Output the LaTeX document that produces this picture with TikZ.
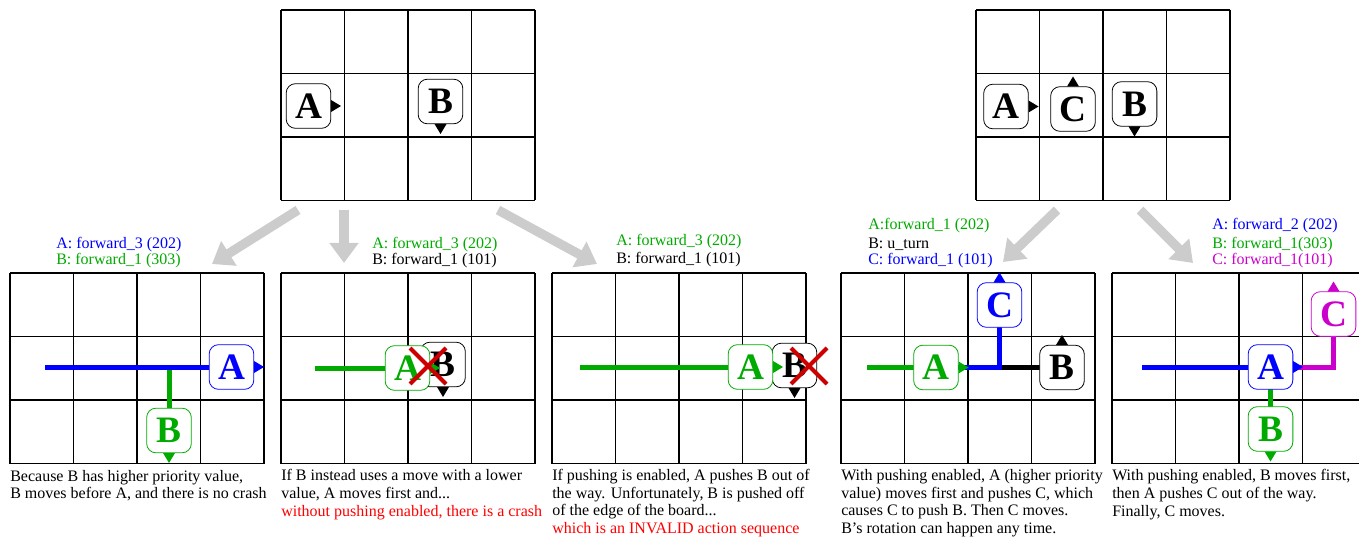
\documentclass[tikz,border=0pt]{standalone}
\usepackage{fontspec}
\setmainfont{Liberation Serif}
\usetikzlibrary{arrows.meta}
\definecolor{mygreen}{RGB}{0,170,0}
\definecolor{mymag}{RGB}{204,0,204}
\definecolor{crash}{RGB}{204,0,0}
\definecolor{fanc}{RGB}{204,204,204}
\tikzset{
  robot/.style={draw=#1, fill=white, rounded corners=7pt, minimum size=33.5pt,
    inner sep=0pt, line width=0.6pt, text=#1,
    font=\fontsize{28}{28}\selectfont\bfseries},
  move/.style={line width=3.75pt, #1},
  fan/.style={line width=7pt, fanc, -{Triangle[length=15pt,width=21pt]}},
  lbl/.style={anchor=base west, inner sep=0pt, font=\fontsize{12}{13}\selectfont},
  note/.style={anchor=base west, inner sep=0pt, align=left,
    font=\fontsize{12}{13.2}\selectfont},
  cross/.style={line width=3pt, crash}
}
% name, position, letter, colour, heading
\newcommand{\rbt}[5]{%
  \node[robot=#4] (#1) at (#2) {#3};
  \fill[#4,shift={(#1.center)},rotate=#5] (22.5,-6) -- (32.5,0) -- (22.5,6) -- cycle;
}
% 4x3 board from its top left corner
\newcommand{\board}[2]{%
  \foreach \i in {0,...,4} \draw[line width=0.8pt] (#1+\i*63.5,#2) -- ++(0,190.5);
  \foreach \j in {0,...,3} \draw[line width=0.8pt] (#1,#2+\j*63.5) -- ++(254,0);
}

\begin{document}
\begin{tikzpicture}[x=0.75pt,y=-0.75pt]
  \useasboundingbox (0,0) rectangle (1359,538);
  % Boards
  \board{281}{10}
  \board{976}{10}
  \board{10}{273}
  \board{281}{273}
  \board{552}{273}
  \board{841}{273}
  \board{1112}{273}
  % Fan-out arrows
  \coordinate (f1s) at (298,210); \coordinate (f1e) at (212,264);
  \coordinate (f2s) at (344,210); \coordinate (f2e) at (344,263);
  \coordinate (f3s) at (498,210); \coordinate (f3e) at (597,264);
  \coordinate (f4s) at (1057,210); \coordinate (f4e) at (1003,262);
  \coordinate (f5s) at (1140,210); \coordinate (f5e) at (1193,263);
  \draw[fan] (f1s) -- (f1e);
  \draw[fan] (f2s) -- (f2e);
  \draw[fan] (f3s) -- (f3e);
  \draw[fan] (f4s) -- (f4e);
  \draw[fan] (f5s) -- (f5e);
  % Start states
  \rbt{tA}{308.5,106}{A}{black}{0}
  \rbt{tB}{440.5,101.5}{B}{black}{-90}
  \rbt{uA}{1006,106.5}{A}{black}{0}
  \rbt{uC}{1073,109}{C}{black}{90}
  \rbt{uB}{1134.5,104}{B}{black}{-90}
  % Panel 1
  \coordinate (a1) at (231.5,367); \coordinate (b1) at (169,430.5);
  \coordinate (a1s) at (45,367); \coordinate (b1s) at (169,367);
  \draw[move=mygreen] (b1s) -- (b1);
  \draw[move=blue] (a1s) -- (a1);
  \rbt{A1}{a1}{A}{blue}{0}
  \rbt{B1}{b1}{B}{mygreen}{-90}
  \node[lbl,blue] (l1a) at (56,248) {A: forward\_3 (202)};
  \node[lbl,mygreen] (l1b) at (56,265) {B: forward\_1 (303)};
  \node[note] (n1) at (10,498.6) {Because B has higher priority value,\\
    B moves before A, and there is no crash};
  % Panel 2
  \coordinate (a2) at (407.5,368); \coordinate (a2s) at (315,368);
  \draw[move=mygreen] (a2s) -- (a2);
  \rbt{B2}{443,364.5}{B}{black}{-90}
  \rbt{A2}{a2}{A}{mygreen}{0}
  \coordinate (x2) at (428,366);
  \draw[cross] (x2) ++(-18,-18) -- ++(36,36) (x2) ++(18,-18) -- ++(-36,36);
  \node[lbl,mygreen] (l2a) at (372,248) {A: forward\_3 (202)};
  \node[lbl] (l2b) at (372,265) {B: forward\_1 (101)};
  \node[note] (n2) at (281,516) {If B instead uses a move with a lower\\
    value, A moves first and...\\
    \textcolor{red}{without pushing enabled, there is a crash}};
  % Panel 3
  \coordinate (a3) at (750.5,367); \coordinate (a3s) at (580,367);
  \draw[move=mygreen] (a3s) -- (a3);
  \rbt{B3}{794.5,365.5}{B}{black}{-90}
  \rbt{A3}{a3}{A}{mygreen}{0}
  \coordinate (x3) at (809,366);
  \draw[cross] (x3) ++(-18,-18) -- ++(36,36) (x3) ++(18,-18) -- ++(-36,36);
  \node[lbl,mygreen] (l3a) at (616,246) {A: forward\_3 (202)};
  \node[lbl] (l3b) at (616,263) {B: forward\_1 (101)};
  \node[note] (n3) at (552,533.4) {If pushing is enabled, A pushes B out of\\
    the way.  Unfortunately, B is pushed off\\
    of the edge of the board...\\
    \textcolor{red}{which is an INVALID action sequence}};
  % Panel 4
  \coordinate (a4) at (936,367.5); \coordinate (c4) at (999.5,305);
  \coordinate (b4) at (1062,367.5);
  \coordinate (a4s) at (867,367.5); \coordinate (k4) at (999.5,367.5);
  \draw[move=mygreen] (a4s) -- (a4);
  \draw[move=black] (k4) -- (b4);
  \draw[move=blue] (a4) -- (k4) -- (c4);
  \rbt{C4}{c4}{C}{blue}{90}
  \rbt{B4}{b4}{B}{black}{90}
  \rbt{A4}{a4}{A}{mygreen}{0}
  \node[lbl,mygreen] (l4a) at (868,230) {A:forward\_1 (202)};
  \node[lbl] (l4b) at (868,248) {B: u\_turn};
  \node[lbl,blue] (l4c) at (868,265) {C: forward\_1 (101)};
  \node[note] (n4) at (841,533.4) {With pushing enabled, A (higher priority\\
    value) moves first and pushes C, which\\
    causes C to push B.  Then C moves.\\
    B’s rotation can happen any time.};
  % Panel 5
  \coordinate (a5) at (1270.5,367); \coordinate (c5) at (1333.5,314);
  \coordinate (b5) at (1270.5,429);
  \coordinate (a5s) at (1142,367); \coordinate (k5) at (1333.5,367);
  \draw[move=mygreen] (a5) -- (b5);
  \draw[move=mymag] (a5) -- (k5) -- (c5);
  \draw[move=blue] (a5s) -- (a5);
  \rbt{C5}{c5}{C}{mymag}{90}
  \rbt{B5}{b5}{B}{mygreen}{-90}
  \rbt{A5}{a5}{A}{blue}{0}
  \node[lbl,blue] (l5a) at (1212,230) {A: forward\_2 (202)};
  \node[lbl,mygreen] (l5b) at (1212,248) {B: forward\_1(303)};
  \node[lbl,mymag] (l5c) at (1212,265) {C: forward\_1(101)};
  \node[note] (n5) at (1112,516) {With pushing enabled, B moves first,\\
    then A pushes C out of the way.\\
    Finally, C moves.};
\end{tikzpicture}
\end{document}
